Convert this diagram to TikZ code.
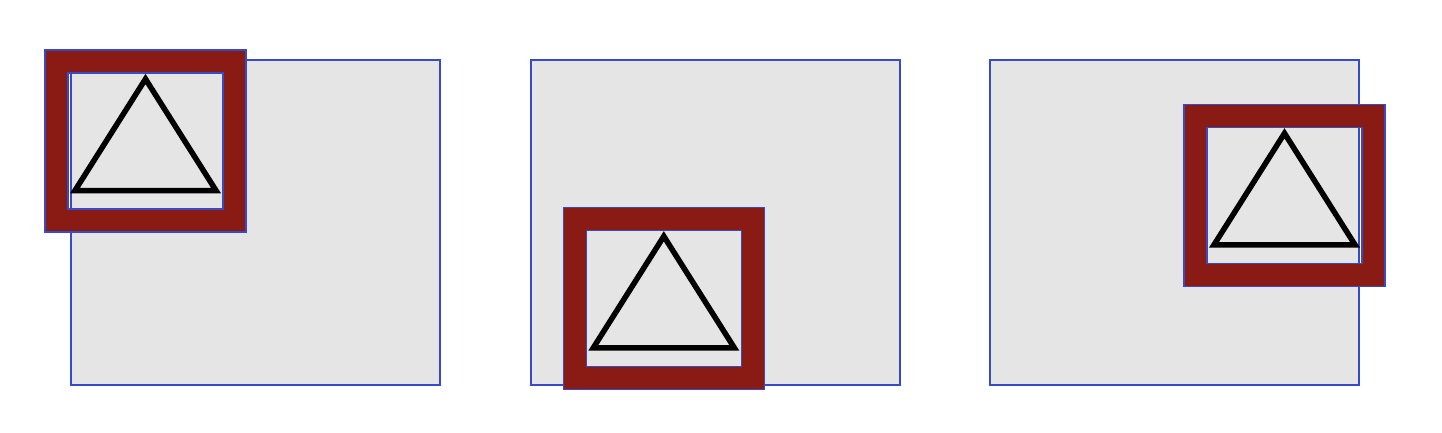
\documentclass[tikz,border=0pt]{standalone}
\usepackage{tikz}
\usetikzlibrary{calc}
\definecolor{fillA}{RGB}{229, 229, 229}
\definecolor{frameclr}{RGB}{138, 27, 20}
\definecolor{edgeblue}{RGB}{55, 75, 200}
\tikzset{
  % Kulrang panel
  panelbox/.style = {fill=fillA, draw=edgeblue, line width=1.2pt},
  % Ramka (teshikli)
  framebox/.style = {fill=frameclr, draw=edgeblue, line width=1.2pt, even odd rule},
  % Uchburchak
  trishape/.style = {draw=black, line width=5.5pt, line join=miter},
}

\begin{document}
\begin{tikzpicture}[x=1pt, y=-1pt]
  \useasboundingbox (0,0) rectangle (1442,432);
  % Uchta panel: panel x, ramka x, ramka y
  \foreach \px/\fx/\fy in {71/45/50, 531/563.3/207.3, 990/1184/104.3}{
    \coordinate (P) at (\px,60);
    \coordinate (F) at (\fx,\fy);
    \draw[panelbox] (P) rectangle ++(369,325);
    \draw[framebox] (F) rectangle ++(201,182)
                    ($(F)+(23,23)$) rectangle ++(155,136);
    \draw[trishape] ($(F)+(100.5,29)$) -- ($(F)+(30,140.5)$)
                    -- ($(F)+(171,140.5)$) -- cycle;
  }
\end{tikzpicture}
\end{document}
